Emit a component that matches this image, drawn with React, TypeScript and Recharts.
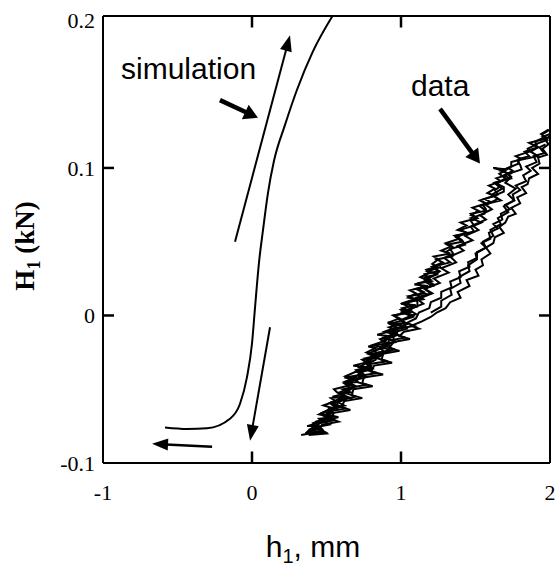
import {
  LineChart,
  Line,
  XAxis,
  YAxis,
  ReferenceLine,
  ReferenceDot,
  Label,
} from 'recharts';

// axes
const X_TICKS = [-1, 0, 1, 2];
const Y_TICKS = [-0.1, 0, 0.1, 0.2];
const X_MARKS = [0, 1]; // inward tick marks top + bottom
const Y_MARKS = [0, 0.1]; // inward tick marks left + right
const X_MIN = -1;
const X_MAX = 2;
const Y_MIN = -0.1;
const Y_MAX = 0.203;

// simulation curve (h1 mm, H1 kN)
const SIM: [number, number][] = [
  [-0.584, -0.076], [-0.436, -0.077], [-0.302, -0.0765], [-0.148, -0.07],
  [-0.081, -0.06], [-0.034, -0.042], [0.0, -0.019], [0.02, 0.005],
  [0.047, 0.036], [0.074, 0.058], [0.107, 0.083], [0.148, 0.105],
  [0.221, 0.129], [0.302, 0.153], [0.409, 0.179], [0.54, 0.203],
];

// measured loops
const DATA_UP_A: [number, number][] = [
  [0.33, -0.081], [0.44, -0.079], [0.39, -0.077], [0.43, -0.075], [0.37, -0.075],
  [0.47, -0.072], [0.45, -0.07], [0.54, -0.069], [0.45, -0.067], [0.51, -0.064],
  [0.55, -0.063], [0.48, -0.061], [0.56, -0.058], [0.53, -0.056], [0.62, -0.055],
  [0.57, -0.052], [0.55, -0.05], [0.63, -0.048], [0.67, -0.047], [0.62, -0.045],
  [0.69, -0.042], [0.63, -0.041], [0.7, -0.038], [0.79, -0.037], [0.72, -0.035],
  [0.77, -0.032], [0.74, -0.03], [0.83, -0.028], [0.78, -0.026], [0.84, -0.023],
  [0.9, -0.022], [0.81, -0.02], [0.9, -0.017], [0.88, -0.015], [0.96, -0.013],
  [0.89, -0.011], [0.97, -0.008], [0.93, -0.006], [1.03, -0.005], [0.98, -0.002],
  [0.95, 0.0], [1.04, 0.002], [1.0, 0.004], [1.05, 0.006], [1.01, 0.008],
  [1.12, 0.011], [1.05, 0.012], [1.1, 0.015], [1.06, 0.017], [1.14, 0.019],
  [1.12, 0.022], [1.2, 0.023], [1.13, 0.026], [1.19, 0.029], [1.17, 0.031],
  [1.24, 0.033], [1.21, 0.035], [1.25, 0.038], [1.22, 0.04], [1.33, 0.042],
  [1.27, 0.044], [1.34, 0.047], [1.3, 0.049], [1.39, 0.052], [1.36, 0.054],
  [1.45, 0.056], [1.38, 0.058], [1.44, 0.061], [1.4, 0.063], [1.51, 0.066],
  [1.47, 0.068], [1.52, 0.071], [1.48, 0.073], [1.57, 0.076], [1.53, 0.078],
  [1.63, 0.081], [1.58, 0.083], [1.63, 0.086], [1.59, 0.088], [1.67, 0.091],
  [1.64, 0.093], [1.73, 0.096], [1.67, 0.098], [1.74, 0.101], [1.74, 0.104],
  [1.81, 0.106], [1.77, 0.108], [1.86, 0.111], [1.85, 0.113], [1.91, 0.116],
  [1.9, 0.118], [1.97, 0.121], [1.95, 0.123], [2.0, 0.126],
];

const DATA_UP_B: [number, number][] = [
  [0.42, -0.08], [0.39, -0.078], [0.47, -0.077], [0.44, -0.074], [0.47, -0.072],
  [0.54, -0.071], [0.48, -0.068], [0.54, -0.066], [0.53, -0.063], [0.6, -0.062],
  [0.53, -0.059], [0.59, -0.057], [0.66, -0.056], [0.59, -0.053], [0.65, -0.051],
  [0.65, -0.048], [0.62, -0.046], [0.71, -0.045], [0.68, -0.042], [0.74, -0.039],
  [0.71, -0.037], [0.81, -0.036], [0.78, -0.033], [0.78, -0.03], [0.85, -0.028],
  [0.79, -0.026], [0.89, -0.025], [0.86, -0.022], [0.9, -0.019], [0.97, -0.018],
  [0.89, -0.015], [0.96, -0.012], [0.94, -0.01], [1.02, -0.008], [0.95, -0.005],
  [1.02, -0.003], [1.08, -0.001], [1.01, 0.002], [1.07, 0.004], [1.06, 0.007],
  [1.04, 0.009], [1.15, 0.011], [1.11, 0.014], [1.15, 0.016], [1.11, 0.018],
  [1.21, 0.02], [1.16, 0.023], [1.19, 0.025], [1.16, 0.028], [1.25, 0.03],
  [1.21, 0.033], [1.28, 0.036], [1.24, 0.038], [1.34, 0.04], [1.3, 0.043],
  [1.35, 0.046], [1.31, 0.048], [1.41, 0.05], [1.37, 0.053], [1.44, 0.056],
  [1.4, 0.058], [1.49, 0.061], [1.47, 0.064], [1.51, 0.066], [1.47, 0.069],
  [1.57, 0.071], [1.53, 0.074], [1.6, 0.077], [1.56, 0.079], [1.65, 0.082],
  [1.63, 0.085], [1.66, 0.087], [1.63, 0.09], [1.73, 0.093], [1.69, 0.095],
  [1.75, 0.098], [1.72, 0.1], [1.79, 0.103], [1.79, 0.106], [1.86, 0.108],
  [1.83, 0.111], [1.92, 0.114], [1.9, 0.116], [1.98, 0.119], [1.95, 0.121],
  [2.0, 0.123],
];

const DATA_DOWN_C: [number, number][] = [
  [1.99, 0.126], [1.94, 0.123], [1.98, 0.12], [1.86, 0.117], [1.92, 0.114],
  [1.87, 0.111], [1.92, 0.108], [1.78, 0.105], [1.8, 0.102], [1.81, 0.099],
  [1.72, 0.096], [1.74, 0.093], [1.63, 0.09], [1.69, 0.087], [1.69, 0.084],
  [1.62, 0.081], [1.67, 0.078], [1.55, 0.075], [1.57, 0.072], [1.56, 0.069],
  [1.47, 0.066], [1.54, 0.063], [1.47, 0.06], [1.49, 0.057], [1.37, 0.054],
  [1.41, 0.051], [1.43, 0.048], [1.33, 0.045], [1.35, 0.042], [1.29, 0.039],
  [1.33, 0.036], [1.21, 0.033], [1.26, 0.03], [1.22, 0.027], [1.16, 0.024],
  [1.22, 0.021], [1.16, 0.018], [1.2, 0.015], [1.1, 0.012], [1.11, 0.009],
  [1.11, 0.006], [1.01, 0.003], [1.08, 0.0], [1.01, -0.003], [1.02, -0.006],
  [1.04, -0.009], [0.93, -0.012], [0.95, -0.015], [0.95, -0.018], [0.87, -0.021],
  [0.93, -0.024], [0.84, -0.027], [0.83, -0.03], [0.77, -0.033], [0.8, -0.036],
  [0.72, -0.039], [0.76, -0.042], [0.65, -0.045], [0.69, -0.048], [0.65, -0.051],
  [0.6, -0.054], [0.63, -0.057], [0.53, -0.06], [0.57, -0.063], [0.5, -0.066],
  [0.53, -0.069], [0.43, -0.072], [0.44, -0.075], [0.38, -0.078], [0.36, -0.08],
];

const DATA_DOWN_D: [number, number][] = [
  [2.0, 0.122], [1.97, 0.119], [1.99, 0.116], [1.95, 0.113], [1.98, 0.109],
  [1.92, 0.107], [1.93, 0.103], [1.88, 0.1], [1.92, 0.096], [1.86, 0.093],
  [1.85, 0.089], [1.81, 0.087], [1.84, 0.083], [1.78, 0.08], [1.8, 0.076],
  [1.74, 0.073], [1.77, 0.069], [1.72, 0.067], [1.7, 0.063], [1.66, 0.06],
  [1.69, 0.056], [1.63, 0.053], [1.62, 0.049], [1.57, 0.046], [1.6, 0.042],
  [1.54, 0.038], [1.55, 0.034], [1.5, 0.031], [1.52, 0.027], [1.44, 0.024],
  [1.46, 0.02], [1.38, 0.016], [1.4, 0.012], [1.33, 0.009], [1.3, 0.005],
  [1.24, 0.002], [1.2, -0.001], [1.14, -0.004], [1.07, -0.007], [1.12, -0.009],
  [1.02, -0.011], [0.99, -0.014], [1.06, -0.016], [0.95, -0.018], [0.92, -0.022],
  [0.99, -0.024], [0.88, -0.026], [0.87, -0.03], [0.94, -0.032], [0.82, -0.034],
  [0.8, -0.038], [0.88, -0.04], [0.75, -0.042], [0.74, -0.046], [0.81, -0.048],
  [0.68, -0.05], [0.67, -0.054], [0.74, -0.056], [0.62, -0.058], [0.6, -0.062],
  [0.66, -0.064], [0.55, -0.066], [0.53, -0.07], [0.58, -0.072], [0.47, -0.074],
  [0.45, -0.077], [0.49, -0.079], [0.4, -0.08],
];

const DATA_DOWN_F: [number, number][] = [
  [1.97, 0.116], [1.93, 0.114], [1.96, 0.11], [1.89, 0.108], [1.91, 0.104],
  [1.84, 0.101], [1.87, 0.098], [1.82, 0.095], [1.84, 0.091], [1.77, 0.088],
  [1.8, 0.085], [1.75, 0.082], [1.76, 0.078], [1.7, 0.075], [1.73, 0.072],
  [1.67, 0.069], [1.68, 0.065], [1.62, 0.062], [1.65, 0.059], [1.59, 0.056],
  [1.6, 0.052], [1.54, 0.049], [1.57, 0.046], [1.51, 0.043], [1.51, 0.039],
  [1.45, 0.036], [1.46, 0.033], [1.39, 0.03], [1.4, 0.026], [1.33, 0.023],
  [1.34, 0.019], [1.27, 0.016], [1.27, 0.012], [1.2, 0.009], [1.19, 0.005],
  [1.12, 0.002], [1.1, -0.002], [1.04, -0.005], [1.09, -0.007], [0.98, -0.009],
  [0.97, -0.013], [1.03, -0.015], [0.92, -0.017], [0.9, -0.021], [0.96, -0.023],
  [0.85, -0.025], [0.84, -0.029], [0.91, -0.031], [0.78, -0.033], [0.77, -0.037],
  [0.84, -0.039], [0.72, -0.041], [0.7, -0.045], [0.77, -0.047], [0.65, -0.049],
  [0.64, -0.053], [0.7, -0.055], [0.58, -0.057], [0.57, -0.061], [0.63, -0.063],
  [0.52, -0.065], [0.5, -0.069], [0.55, -0.071], [0.45, -0.073], [0.43, -0.076],
  [0.47, -0.078], [0.38, -0.08],
];

const DATA_LOOP_E: [number, number][] = [
  [0.36, -0.08], [0.44, -0.076], [0.41, -0.073], [0.52, -0.069], [0.47, -0.066],
  [0.57, -0.062], [0.53, -0.059], [0.63, -0.055], [0.59, -0.052], [0.69, -0.048],
  [0.64, -0.045], [0.75, -0.041], [0.7, -0.038], [0.8, -0.034], [0.76, -0.031],
  [0.87, -0.027], [0.82, -0.024], [0.92, -0.02], [0.88, -0.017], [0.98, -0.013],
  [0.94, -0.01], [1.04, -0.006], [1.0, -0.003], [1.1, 0.001], [1.05, 0.004],
  [1.15, 0.008], [1.11, 0.011], [1.21, 0.015], [1.16, 0.018], [1.26, 0.022],
  [1.22, 0.025], [1.32, 0.029], [1.27, 0.032], [1.37, 0.036], [1.33, 0.04],
  [1.42, 0.044], [1.38, 0.047], [1.48, 0.051], [1.43, 0.054], [1.52, 0.058],
  [1.48, 0.061], [1.57, 0.065], [1.53, 0.068], [1.61, 0.072], [1.57, 0.075],
  [1.65, 0.079], [1.61, 0.082], [1.68, 0.086], [1.64, 0.089], [1.7, 0.093],
  [1.66, 0.096], [1.71, 0.099], [1.62, 0.1], [1.69, 0.098], [1.74, 0.094],
  [1.7, 0.09], [1.77, 0.086], [1.72, 0.082], [1.76, 0.078], [1.69, 0.074],
  [1.72, 0.07], [1.65, 0.066], [1.67, 0.062], [1.6, 0.058], [1.62, 0.054],
  [1.55, 0.05], [1.57, 0.046], [1.5, 0.042], [1.51, 0.038], [1.45, 0.034],
  [1.46, 0.03], [1.39, 0.026], [1.4, 0.022], [1.33, 0.018], [1.34, 0.014],
  [1.27, 0.01], [1.27, 0.006], [1.2, 0.002],
];

const DATA_UP_G: [number, number][] = [
  [0.38, -0.081], [0.5, -0.08], [0.45, -0.077], [0.42, -0.076], [0.52, -0.074],
  [0.47, -0.071], [0.58, -0.069], [0.5, -0.067], [0.55, -0.064], [0.51, -0.063],
  [0.62, -0.061], [0.56, -0.058], [0.6, -0.056], [0.54, -0.055], [0.66, -0.052],
  [0.61, -0.05], [0.7, -0.048], [0.63, -0.046], [0.68, -0.043], [0.62, -0.042],
  [0.75, -0.04], [0.7, -0.037], [0.77, -0.035], [0.68, -0.034], [0.8, -0.031],
  [0.76, -0.029], [0.85, -0.027], [0.77, -0.025], [0.83, -0.022], [0.78, -0.021],
  [0.9, -0.019], [0.86, -0.016], [0.93, -0.014], [0.84, -0.013], [0.96, -0.01],
  [0.92, -0.008], [1.01, -0.006], [0.91, -0.005], [0.99, -0.002], [0.95, 0.0],
  [1.06, 0.002], [1.01, 0.005], [1.1, 0.007], [1.0, 0.008], [1.09, 0.011],
  [1.05, 0.013], [1.16, 0.015], [1.1, 0.018], [1.18, 0.02], [1.09, 0.021],
  [1.2, 0.024], [1.16, 0.026], [1.25, 0.028], [1.18, 0.03], [1.27, 0.033],
];

const DATA_TRACES = [
  DATA_UP_A, DATA_UP_B, DATA_DOWN_C, DATA_DOWN_D, DATA_DOWN_F, DATA_LOOP_E, DATA_UP_G,
];

// annotation arrows: [x1, y1, x2(tip), y2(tip)]
const ARROW_UP = [-0.114, 0.05, 0.255, 0.19];
const ARROW_DOWN = [0.121, -0.008, -0.013, -0.085];
const ARROW_LEFT = [-0.268, -0.089, -0.671, -0.087];
const POINTER_SIM = [-0.215, 0.146, 0.04, 0.134];
const POINTER_DATA = [1.262, 0.14, 1.53, 0.103];

const toPts = (arr: [number, number][]) => arr.map(([x, y]) => ({ x, y }));

const TICK_DX = 0.074; // ~11px in x units
const TICK_DY = 0.0078; // ~11px in y units

// inward tick marks on all four sides, as short two-point segments
const TICK_SEGMENTS: [number, number][][] = [
  ...X_MARKS.map((v) => [[v, Y_MIN], [v, Y_MIN + TICK_DY]] as [number, number][]),
  ...X_MARKS.map((v) => [[v, Y_MAX], [v, Y_MAX - TICK_DY]] as [number, number][]),
  ...Y_MARKS.map((v) => [[X_MIN, v], [X_MIN + TICK_DX, v]] as [number, number][]),
  ...Y_MARKS.map((v) => [[X_MAX, v], [X_MAX - TICK_DX, v]] as [number, number][]),
];

const axisStyle = { stroke: '#000', strokeWidth: 2 };
const serif = 'Liberation Serif';
const fmtY = (v: number) => (v === 0 ? '0' : String(v));

const LeftTick = (p: any) => (
  <text x={Number(p.x) - 8} y={Number(p.y)} dy="0.35em" textAnchor="end" fontFamily={serif} fontSize={22} fill="#000">
    {fmtY(p.payload.value)}
  </text>
);

const BottomTick = (p: any) => (
  <text x={Number(p.x)} y={Number(p.y) + 37} textAnchor="middle" fontFamily={serif} fontSize={22} fill="#000">
    {String(p.payload.value)}
  </text>
);

function arrowShape(sw: number, len: number, half: number) {
  return (p: any) => {
    const x1 = Number(p.x1);
    const y1 = Number(p.y1);
    const x2 = Number(p.x2);
    const y2 = Number(p.y2);
    const dx = x2 - x1;
    const dy = y2 - y1;
    const d = Math.sqrt(dx * dx + dy * dy) || 1;
    const ux = dx / d;
    const uy = dy / d;
    const bx = x2 - ux * len;
    const by = y2 - uy * len;
    const pts = `${x2},${y2} ${bx - uy * half},${by + ux * half} ${bx + uy * half},${by - ux * half}`;
    return (
      <g>
        <line x1={x1} y1={y1} x2={bx + ux * 2} y2={by + uy * 2} stroke="#000" strokeWidth={sw} />
        <polygon points={pts} fill="#000" />
      </g>
    );
  };
}

function Arrow(a: number[], sw: number, len: number, half: number, key: string) {
  return (
    <ReferenceLine
      key={key}
      segment={[
        { x: a[0], y: a[1] },
        { x: a[2], y: a[3] },
      ]}
      ifOverflow="visible"
      shape={arrowShape(sw, len, half)}
    />
  );
}

const textShape = (txt: string) => (p: any) => (
  <text x={p.cx} y={p.cy} fontFamily="Liberation Sans" fontSize={30} fill="#000">
    {txt}
  </text>
);

export default function App() {
  return (
    <div style={{ position: 'absolute', left: 0, top: 0, background: '#fff' }}>
      <LineChart
        width={558}
        height={571}
        margin={{ top: 15, right: 7, bottom: 68, left: 43 }}
      >
        <XAxis
          type="number"
          dataKey="x"
          domain={[X_MIN, X_MAX]}
          ticks={X_TICKS}
          allowDataOverflow
          height={40}
          axisLine={axisStyle}
          tickLine={false}
          tickSize={0}
          tickMargin={0}
          tick={BottomTick}
        >
          <Label
            content={() => (
              <text x={313} y={557} textAnchor="middle" fontFamily="Liberation Sans" fontSize={30} fill="#000">
                h<tspan fontSize={20} dy={6}>1</tspan>
                <tspan dy={-6}>, mm</tspan>
              </text>
            )}
          />
        </XAxis>
        <XAxis
          xAxisId="t"
          orientation="top"
          type="number"
          dataKey="x"
          domain={[X_MIN, X_MAX]}
          ticks={X_TICKS}
          allowDataOverflow
          height={1}
          axisLine={axisStyle}
          tickLine={false}
          tick={false}
        />
        <YAxis
          type="number"
          domain={[Y_MIN, Y_MAX]}
          ticks={Y_TICKS}
          allowDataOverflow
          width={60}
          axisLine={axisStyle}
          tickLine={false}
          tickSize={0}
          tickMargin={0}
          tick={LeftTick}
        >
          <Label
            content={() => (
              <text
                transform="translate(34,246) rotate(-90)"
                textAnchor="middle"
                fontFamily={serif}
                fontWeight="bold"
                fontSize={27}
                fill="#000"
              >
                H<tspan fontSize={18} dy={6}>1</tspan>
                <tspan dy={-6}> (kN)</tspan>
              </text>
            )}
          />
        </YAxis>
        <YAxis
          yAxisId="r"
          orientation="right"
          type="number"
          domain={[Y_MIN, Y_MAX]}
          ticks={Y_TICKS}
          allowDataOverflow
          width={1}
          axisLine={axisStyle}
          tickLine={false}
          tick={false}
        />

        {TICK_SEGMENTS.map((seg, i) => (
          <Line
            key={`tk${i}`}
            data={toPts(seg)}
            dataKey="y"
            type="linear"
            stroke="#000"
            strokeWidth={2.5}
            dot={false}
            isAnimationActive={false}
          />
        ))}

        {DATA_TRACES.map((tr, i) => (
          <Line
            key={`d${i}`}
            data={toPts(tr)}
            dataKey="y"
            type="linear"
            stroke="#000"
            strokeWidth={2}
            dot={false}
            isAnimationActive={false}
          />
        ))}
        <Line
          data={toPts(SIM)}
          dataKey="y"
          type="monotone"
          stroke="#000"
          strokeWidth={2}
          dot={false}
          isAnimationActive={false}
        />

        {Arrow(ARROW_UP, 2, 16, 6, 'a1')}
        {Arrow(ARROW_DOWN, 2, 16, 6, 'a2')}
        {Arrow(ARROW_LEFT, 2.5, 16, 6, 'a3')}
        {Arrow(POINTER_SIM, 4.5, 14, 8, 'a4')}
        {Arrow(POINTER_DATA, 4.5, 14, 8, 'a5')}

        <ReferenceDot x={-0.879} y={0.16} r={0} ifOverflow="visible" shape={textShape('simulation')} />
        <ReferenceDot x={1.067} y={0.149} r={0} ifOverflow="visible" shape={textShape('data')} />
      </LineChart>
    </div>
  );
}
